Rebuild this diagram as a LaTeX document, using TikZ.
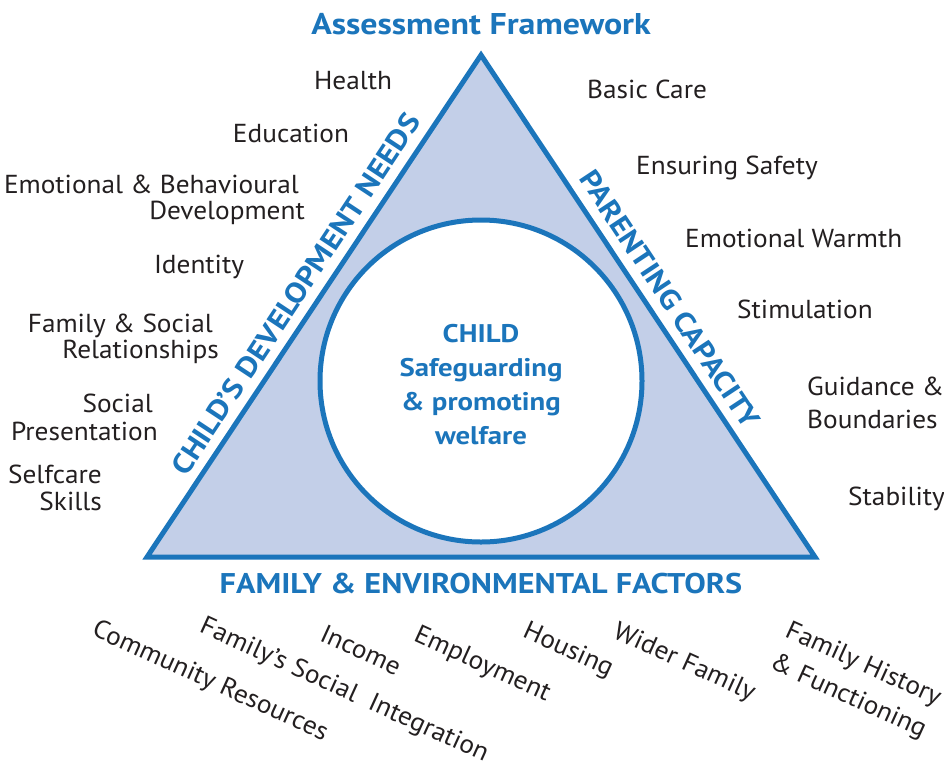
\documentclass[tikz,border=0pt]{standalone}
\usepackage{fontspec}
\setmainfont{PT Sans}[FakeStretch=1.05]
\newfontfamily\headfont{PT Sans}[FakeStretch=1.13]
\definecolor{afblue}{HTML}{1B75BB}
\definecolor{affill}{HTML}{C3CFE8}
\definecolor{aftext}{HTML}{231F20}
\begin{document}
\begin{tikzpicture}[x=1pt,y=-1pt,
  lbl/.style={font=\fontsize{26}{26}\selectfont, text=aftext, inner sep=0pt},
  blbl/.style={lbl, rotate=-24.5},
  head/.style={font=\headfont\bfseries\fontsize{30}{30}\selectfont, text=afblue, inner sep=0pt},
  edgelbl/.style={font=\headfont\bfseries\fontsize{28.5}{30}\selectfont, text=afblue, inner sep=0pt},
  centre/.style={font=\headfont\bfseries\fontsize{25.5}{34}\selectfont, text=afblue, inner sep=0pt, align=center},
  frame/.style={draw=afblue, line width=5pt, line join=miter}]
\useasboundingbox (0,0) rectangle (944,769);

% triangle
\coordinate (apex) at (481,55);
\coordinate (bl) at (147,557);
\coordinate (br) at (815,557);
\draw[frame, fill=affill] (apex) -- (bl) -- (br) -- cycle;

% inner circle
\node[circle, frame, fill=white, minimum size=322pt, inner sep=0pt] (child) at (481,381) {};
\node[centre] (childtxt) at (481,385) {CHILD\\Safeguarding\\\& promoting\\welfare};

% headings
\node[head] (title) at (481,24) {Assessment Framework};
\node[edgelbl, rotate=56.5] (cdn) at (295.7,294.2) {CHILD’S DEVELOPMENT NEEDS};
\node[edgelbl, rotate=-56.5] (pc) at (670,299) {PARENTING CAPACITY};
\node[edgelbl] (fef) at (481,584) {FAMILY \& ENVIRONMENTAL FACTORS};

% child's development needs
\node[lbl, anchor=base] (health) at (353,89) {Health};
\node[lbl, anchor=base] (edu) at (291,142) {Education};
\node[lbl, anchor=base east] (emo1) at (299,193) {Emotional \& Behavioural};
\node[lbl, anchor=base east] (emo2) at (305,219) {Development};
\node[lbl, anchor=base] (ident) at (199,273) {Identity};
\node[lbl, anchor=base east] (fam1) at (213,332) {Family \& Social};
\node[lbl, anchor=base east] (fam2) at (219,358) {Relationships};
\node[lbl, anchor=base east] (soc1) at (153,412) {Social};
\node[lbl, anchor=base east] (soc2) at (158,440) {Presentation};
\node[lbl, anchor=base east] (self1) at (102,483) {Selfcare};
\node[lbl, anchor=base east] (self2) at (102,510) {Skills};

% parenting capacity
\node[lbl, anchor=base west] (basic) at (587,98) {Basic Care};
\node[lbl, anchor=base west] (safety) at (636,174) {Ensuring Safety};
\node[lbl, anchor=base west] (warmth) at (685,247) {Emotional Warmth};
\node[lbl, anchor=base west] (stim) at (737,318) {Stimulation};
\node[lbl, anchor=base west] (guid1) at (807,395) {Guidance \&};
\node[lbl, anchor=base west] (guid2) at (807,428) {Boundaries};
\node[lbl, anchor=base west] (stab) at (848,505) {Stability};

% family & environmental factors
\node[blbl] (comm) at (210,682) {Community Resources};
\node[blbl] (integ) at (344,691) {Family’s Social~~Integration};
\node[blbl] (income) at (361,650) {Income};
\node[blbl] (employ) at (482,665) {Employment};
\node[blbl] (housing) at (568,651) {Housing};
\node[blbl] (wider) at (684,663) {Wider Family};
\node[blbl] (hist1) at (863,665) {Family History};
\node[blbl] (hist2) at (848,697) {\& Functioning};
\end{tikzpicture}
\end{document}
